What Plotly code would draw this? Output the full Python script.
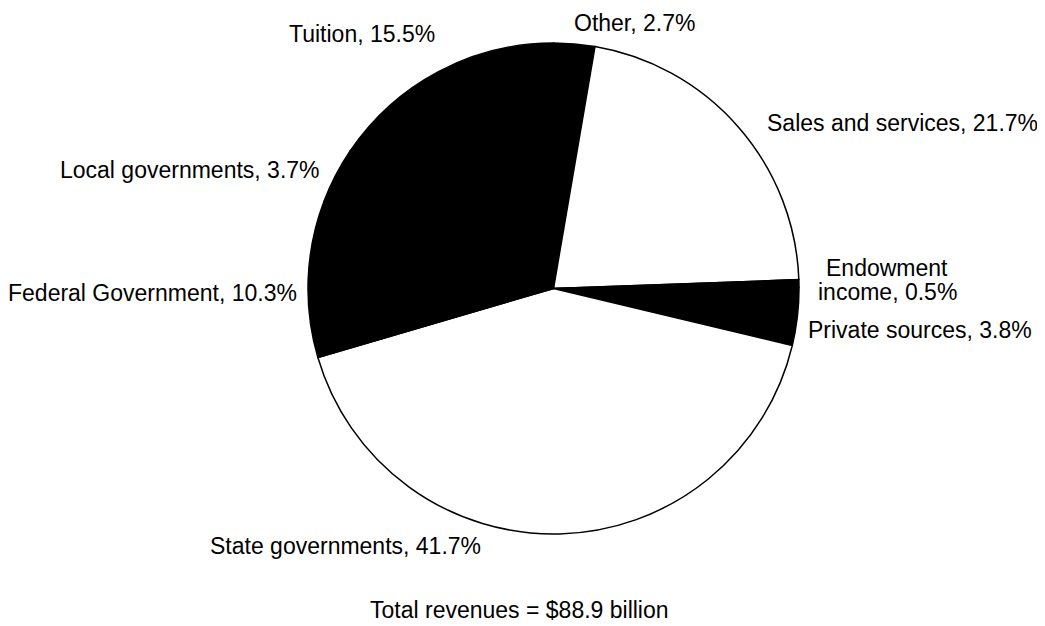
import plotly.graph_objects as go

# Data (clockwise from 12 o'clock)
categories = ["Other", "Sales and services", "Endowment income", "Private sources",
              "State governments", "Federal Government", "Local governments", "Tuition"]
shares = [2.7, 21.7, 0.5, 3.8, 41.7, 10.3, 3.7, 15.5]
label_lines = [["Other"], ["Sales and services"], ["Endowment", "income"], ["Private sources"],
               ["State governments"], ["Federal Government"], ["Local governments"], ["Tuition"]]
total_note = "Total revenues = $88.9 billion"

fills = ["black", "white", "black", "black", "white", "black", "black", "black"]

OFF = 8  # page body margin in the browser
W, H = 1045 - OFF, 626 - OFF  # figure fits inside the window without scrolling
FONT = dict(family="Liberation Sans, Arial, Helvetica, sans-serif", size=23, color="black")


def fx(px):
    return (px - OFF) / W


def fy(py):
    return 1 - (py - OFF) / H


fig = go.Figure()
fig.add_trace(go.Pie(
    labels=categories,
    values=shares,
    sort=False,
    direction="clockwise",
    rotation=0,
    marker=dict(colors=fills, line=dict(color="black", width=1.5)),
    textinfo="none",
    hoverinfo="label+percent",
    showlegend=False,
    domain=dict(x=[fx(308), fx(799)], y=[fy(534), fy(43)]),
))

# label placement in page pixels: (x, [y per line], anchor)
placements = {
    "Other": (634, [23], "center"),
    "Sales and services": (1040, [123], "right"),
    "Endowment income": (887, [268, 292], "center"),
    "Private sources": (806, [330], "left"),
    "State governments": (208, [546], "left"),
    "Federal Government": (299, [293], "right"),
    "Local governments": (322, [170], "right"),
    "Tuition": (437, [34], "right"),
}

for cat, lines, val in zip(categories, label_lines, shares):
    px, ys, anc = placements[cat]
    for i, (line, py) in enumerate(zip(lines, ys)):
        txt = f"{line}, {val}%" if i == len(lines) - 1 else line
        fig.add_annotation(
            x=fx(px), y=fy(py), xref="paper", yref="paper",
            text=txt, showarrow=False,
            xanchor=anc, yanchor="middle", font=FONT,
        )

fig.add_annotation(
    x=fx(519), y=fy(610), xref="paper", yref="paper",
    text=total_note, showarrow=False, xanchor="center", yanchor="middle", font=FONT,
)

fig.update_layout(
    width=W, height=H,
    margin=dict(l=0, r=0, t=0, b=0),
    paper_bgcolor="white", plot_bgcolor="white",
    font=FONT,
)

fig.write_html("out.html")
